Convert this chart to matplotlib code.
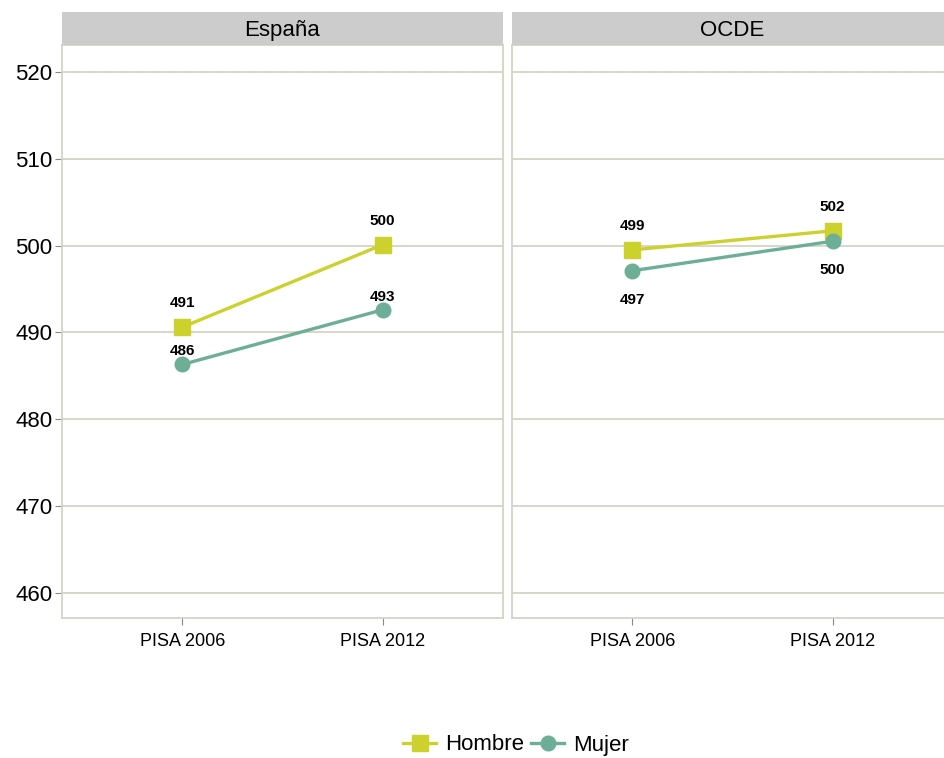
import matplotlib.pyplot as plt
import numpy as np

plt.rcParams['font.family'] = ['Liberation Sans', 'DejaVu Sans']

# Data
panels = ["España", "OCDE"]
waves = ["PISA 2006", "PISA 2012"]
hombre = {"España": [490.6, 500.1], "OCDE": [499.5, 501.7]}
mujer = {"España": [486.3, 492.6], "OCDE": [497.1, 500.5]}
hombre_lab = {"España": ["491", "500"], "OCDE": ["499", "502"]}
mujer_lab = {"España": ["486", "493"], "OCDE": ["497", "500"]}
mujer_below = {"España": False, "OCDE": True}

c_h = "#CDD12E"
c_m = "#6DAE97"
grid_c = "#D3D3C5"

W, H = 944, 758
fig = plt.figure(figsize=(W / 100, H / 100), dpi=100)

lefts = [62, 512]
pw = 441
top, bottom = 45, 618
strip_top = 12

x = np.array([1, 2])
for i, p in enumerate(panels):
    ax = fig.add_axes([lefts[i] / W, 1 - bottom / H, pw / W, (bottom - top) / H])
    ax.set_xlim(0.4, 2.6)
    ax.set_ylim(457.1, 523.1)
    ax.set_yticks([460, 470, 480, 490, 500, 510, 520])
    ax.set_xticks(x)
    ax.set_xticklabels(waves, fontsize=13)
    ax.grid(axis='y', color=grid_c, linewidth=1.3)
    ax.set_axisbelow(True)
    for s in ax.spines.values():
        s.set_color(grid_c)
        s.set_linewidth(1.3)
    ax.tick_params(axis='x', length=5, color="#888888", pad=6)
    if i == 0:
        ax.tick_params(axis='y', labelsize=16, length=5, color="#888888", pad=2)
    else:
        ax.tick_params(axis='y', left=False, labelleft=False)

    ax.plot(x, hombre[p], color=c_h, lw=2.4, marker='s', ms=11, label="Hombre")
    ax.plot(x, mujer[p], color=c_m, lw=2.4, marker='o', ms=10.5, label="Mujer")

    for xi, v, t in zip(x, hombre[p], hombre_lab[p]):
        ax.annotate(t, (xi, v), xytext=(0, 12), textcoords='offset points',
                    ha='center', va='bottom', fontsize=11, fontweight='bold')
    for xi, v, t in zip(x, mujer[p], mujer_lab[p]):
        off = -16 if mujer_below[p] else 4.5
        va = 'top' if mujer_below[p] else 'bottom'
        ax.annotate(t, (xi, v), xytext=(0, off), textcoords='offset points',
                    ha='center', va=va, fontsize=11, fontweight='bold')

    # strip
    sax = fig.add_axes([lefts[i] / W, 1 - top / H, pw / W, (top - strip_top) / H])
    sax.set_facecolor("#CCCCCC")
    sax.set_xticks([])
    sax.set_yticks([])
    for s in sax.spines.values():
        s.set_visible(False)
    sax.text(0.5, 0.45, p, ha='center', va='center', fontsize=16,
             transform=sax.transAxes)

handles, labels = ax.get_legend_handles_labels()
fig.legend(handles, labels, loc='center', bbox_to_anchor=(516 / W, 1 - 745 / H),
           ncol=2, frameon=False, fontsize=16, handlelength=1.5,
           columnspacing=0.3, handletextpad=0.4)

fig.savefig("out.png", dpi=100)
